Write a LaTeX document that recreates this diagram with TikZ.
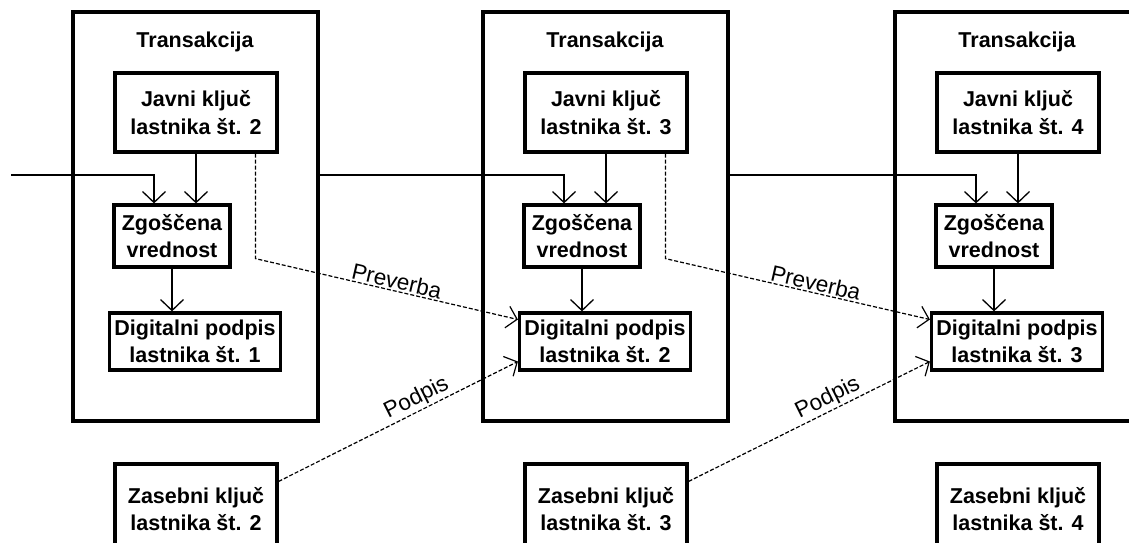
\documentclass[tikz,border=0pt]{standalone}
\usepackage{fontspec}
\setmainfont{Liberation Sans}
\usetikzlibrary{arrows.meta,calc}

\begin{document}
\begin{tikzpicture}[x=1pt,y=-1pt,
  txbox/.style={draw, line width=3.3pt, inner sep=0pt},
  title/.style={font=\bfseries\fontsize{21.5}{26}\selectfont, inner sep=0pt},
  inbox/.style={draw, line width=3.2pt, inner sep=0pt, align=center,
    font=\bfseries\fontsize{21.5}{27.5}\selectfont},
  conn/.style={line width=1.3pt, -{Straight Barb[length=11pt,width=23pt,line width=1.3pt]}},
  dconn/.style={line width=1.2pt, dash pattern=on 4pt off 2pt,
    -{Straight Barb[length=10pt,width=22pt,line width=1.2pt]}},
  lbl/.style={font=\fontsize{22.5}{26}\selectfont, inner sep=1.5pt}]

\useasboundingbox (0,0) rectangle (1129,542);
\fill[white] (0,0) rectangle (1129,542);
\clip (0,0) rectangle (1129,542);

% three transactions, each with its keys, hash and signature
\foreach \i/\L in {1/73, 2/483, 3/895} {
  \pgfmathtruncatemacro\nn{\i+1}
  \node[txbox, minimum width=245pt, minimum height=409pt] (tx\i) at (\L+122.5, 216.5) {};
  \node[title] (tt\i) at (\L+122, 42) {Transakcija};
  \node[inbox, minimum width=162pt, minimum height=79pt] (jk\i) at (\L+123, 112.5)
    {Javni ključ\\lastnika št. \nn};
  \node[inbox, minimum width=116pt, minimum height=62pt] (hv\i) at (\L+99, 236)
    {Zgoščena\\vrednost};
  \node[inbox, minimum width=171pt, minimum height=57pt] (dp\i) at (\L+122, 341.5)
    {Digitalni podpis\\lastnika št. \i};
  \node[inbox, minimum width=162pt, minimum height=90pt] (zk\i) at (\L+123, 509)
    {Zasebni ključ\\lastnika št. \nn};
  \coordinate (in\i) at (\L+81, 175);
  \draw[conn] (jk\i.south) -- (jk\i.south |- hv\i.north);
  \draw[conn] (hv\i.south) -- (hv\i.south |- dp\i.north);
}

% chain: previous transaction feeds the next hash
\coordinate (start) at (11, 175);
\draw[conn] (start) -- (in1) -- (in1 |- hv1.north);
\draw[conn] (tx1.east |- in2) -- (in2) -- (in2 |- hv2.north);
\draw[conn] (tx2.east |- in3) -- (in3) -- (in3 |- hv3.north);

% verification with the public key
\draw[dconn] ($(jk1.south west)+(142,0)$) -- ++(0,105) -- ($(dp2.west)+(0,-22)$)
  node[lbl, pos=0.53, sloped, above] {Preverba};
\draw[dconn] ($(jk2.south west)+(142,0)$) -- ++(0,105) -- ($(dp3.west)+(0,-22)$)
  node[lbl, pos=0.56, sloped, above] {Preverba};

% signing with the private key
\draw[dconn] ($(zk1.north east)+(0,19)$) -- ($(dp2.west)+(0,20)$)
  node[lbl, pos=0.6, sloped, above] {Podpis};
\draw[dconn] ($(zk2.north east)+(0,19)$) -- ($(dp3.west)+(0,20)$)
  node[lbl, pos=0.6, sloped, above] {Podpis};

\end{tikzpicture}
\end{document}
